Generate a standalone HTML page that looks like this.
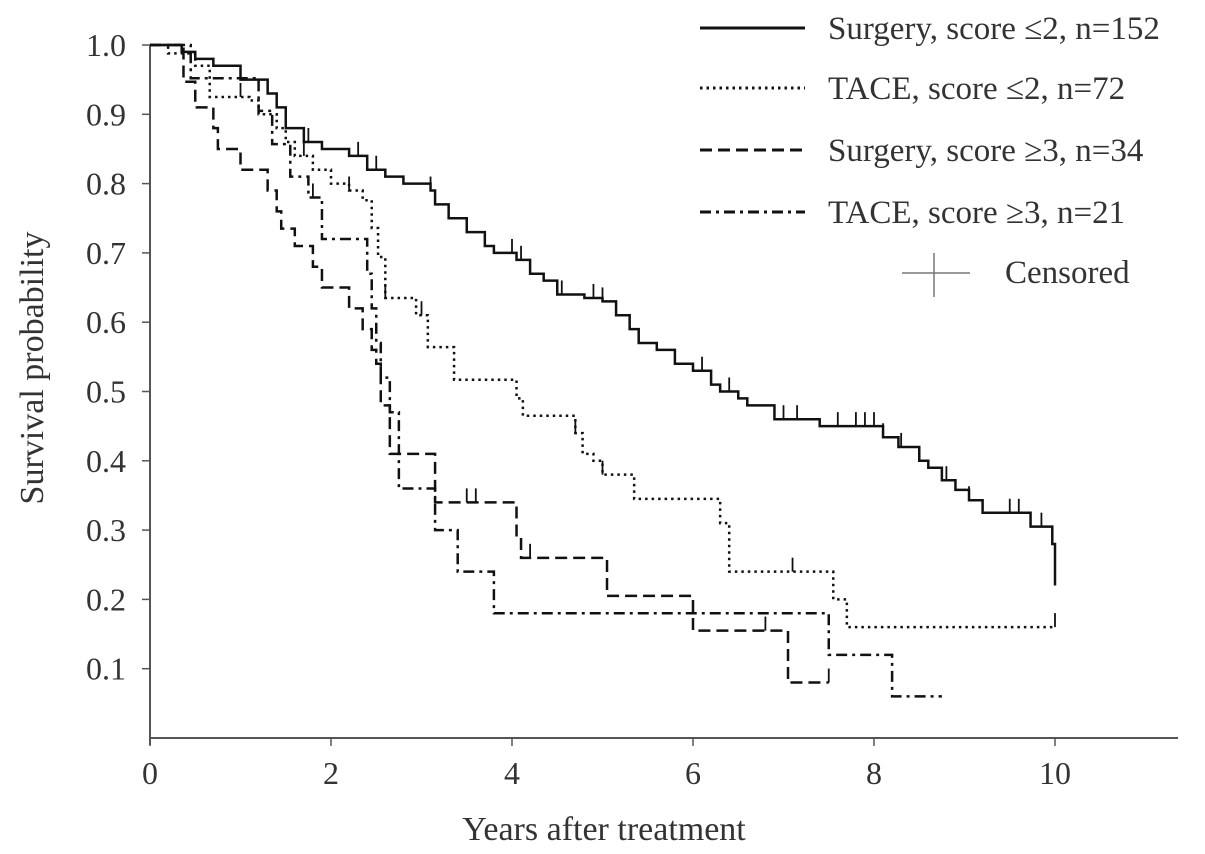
<!DOCTYPE html>
<html><head><meta charset="utf-8"><style>
body{margin:0;background:#fff}
svg{display:block;font-family:"Liberation Serif",serif}
</style></head><body>
<svg id="chart" width="1205" height="854" viewBox="0 0 1205 854"></svg>
<script>
const surgLowT=[0,0.35,0.5,0.7,1.0,1.3,1.4,1.5,1.7,1.9,2.2,2.4,2.6,2.8,3.1,3.15,3.3,3.5,3.7,3.8,4.05,4.2,4.35,4.5,4.8,5.0,5.15,5.3,5.4,5.6,5.8,6.0,6.2,6.3,6.5,6.6,6.9,7.4,8.1,8.27,8.5,8.6,8.75,8.9,9.05,9.2,9.73,9.97,10.0];
const surgLowS=[1.0,0.99,0.98,0.97,0.95,0.93,0.91,0.88,0.86,0.85,0.84,0.82,0.81,0.80,0.79,0.77,0.75,0.73,0.71,0.70,0.69,0.67,0.66,0.64,0.635,0.63,0.61,0.59,0.57,0.56,0.54,0.53,0.51,0.50,0.49,0.48,0.46,0.45,0.434,0.42,0.40,0.39,0.372,0.358,0.343,0.325,0.305,0.28,0.22];
const taceLowT=[0,0.2,0.5,0.66,1.1,1.2,1.4,1.5,1.6,1.8,2.0,2.2,2.35,2.45,2.52,2.6,2.94,3.07,3.36,4.05,4.12,4.7,4.78,4.9,5.0,5.35,6.3,6.4,7.55,7.7,10.0];
const taceLowS=[1.0,0.988,0.97,0.925,0.92,0.90,0.88,0.86,0.84,0.82,0.80,0.79,0.776,0.736,0.694,0.635,0.61,0.564,0.517,0.49,0.465,0.44,0.41,0.40,0.38,0.345,0.31,0.24,0.20,0.16,0.16];
const surgHighT=[0,0.37,0.5,0.7,0.75,1.0,1.3,1.4,1.45,1.6,1.8,1.9,2.2,2.35,2.45,2.5,2.55,2.65,3.15,4.05,4.1,5.05,6.0,7.05,7.5];
const surgHighS=[1.0,0.947,0.91,0.88,0.85,0.82,0.79,0.76,0.735,0.71,0.68,0.65,0.62,0.59,0.56,0.54,0.48,0.41,0.34,0.29,0.26,0.205,0.155,0.08,0.08];
const taceHighT=[0,0.45,1.2,1.35,1.55,1.75,1.9,2.4,2.45,2.5,2.55,2.65,2.75,3.15,3.4,3.8,7.5,8.2,8.75];
const taceHighS=[1.0,0.952,0.905,0.857,0.81,0.78,0.72,0.67,0.62,0.57,0.52,0.47,0.36,0.30,0.24,0.18,0.12,0.06,0.06];
const censSurgLow=[1.0,1.3,1.75,2.3,2.5,3.1,3.7,4.0,4.1,4.55,4.9,5.0,5.4,6.1,6.4,7.0,7.15,7.6,7.8,7.9,8.0,8.1,8.3,8.8,9.05,9.5,9.6,9.85];
const censTaceLow=[1.0,1.7,2.2,2.6,3.0,4.7,5.0,7.1,10.0];
const censSurgHigh=[3.5,3.6,4.2,6.8,7.5];
const censTaceHigh=[1.8];
const xTicks=[0,2,4,6,8,10];
const yTicks=[0.1,0.2,0.3,0.4,0.5,0.6,0.7,0.8,0.9,1.0];

const NS="http://www.w3.org/2000/svg";
const svg=document.getElementById('chart');
const X=t=>150+90.5*t, Y=s=>738-693*s;
function mk(tag,attrs,parent){const e=document.createElementNS(NS,tag);for(const k in attrs)e.setAttribute(k,attrs[k]);(parent||svg).appendChild(e);return e;}
function stepAt(T,S,t){let v=S[0];for(let i=0;i<T.length;i++){if(T[i]<=t)v=S[i];}return v;}

let ax=mk('line',{x1:150,y1:738,x2:1178,y2:738,stroke:'#555','stroke-width':2});

let ay=mk('line',{x1:150,y1:45,x2:150,y2:745,stroke:'#555','stroke-width':2});

xTicks.forEach(v=>{
  const l=mk('line',{x1:X(v),y1:738,x2:X(v),y2:746,stroke:'#555','stroke-width':1.5});
  
  const t=mk('text',{x:X(v),y:784,'text-anchor':'middle','font-size':32,fill:'#333'});t.textContent=v;
  
});
yTicks.forEach(v=>{
  const l=mk('line',{x1:142,y1:Y(v),x2:150,y2:Y(v),stroke:'#555','stroke-width':1.5});
  
  const t=mk('text',{x:126,y:Y(v)+11,'text-anchor':'end','font-size':32,fill:'#333'});t.textContent=v.toFixed(1);
  
});
let xt=mk('text',{x:604,y:840,'text-anchor':'middle','font-size':34,fill:'#333'});xt.textContent='Years after treatment';

let yt=mk('text',{x:43,y:368,'text-anchor':'middle','font-size':34,fill:'#333',transform:'rotate(-90 43 368)'});yt.textContent='Survival probability';


const series=[
 {T:surgLowT,S:surgLowS,C:censSurgLow,dash:'',name:'surgery-low-curve'},
 {T:taceLowT,S:taceLowS,C:censTaceLow,dash:'2.5 4',name:'tace-low-curve'},
 {T:surgHighT,S:surgHighS,C:censSurgHigh,dash:'12 6',name:'surgery-high-curve'},
 {T:taceHighT,S:taceHighS,C:censTaceHigh,dash:'11 5 3 5',name:'tace-high-curve'}
];
series.forEach(se=>{
  let d='M'+X(se.T[0])+','+Y(se.S[0]);
  for(let i=1;i<se.T.length;i++){d+=' H'+X(se.T[i])+' V'+Y(se.S[i]);}
  const p=mk('path',{d:d,fill:'none',stroke:'#111','stroke-width':2.5,'stroke-dasharray':se.dash});
  
  se.C.forEach(c=>{
    const s=stepAt(se.T,se.S,c);
    const l=mk('line',{x1:X(c),y1:Y(s),x2:X(c),y2:Y(s)-14,stroke:'#111','stroke-width':1.8});
    
  });
});

const leg=[['Surgery, score \u22642, n=152','',28],['TACE, score \u22642, n=72','2.5 4',88],['Surgery, score \u22653, n=34','12 6',150],['TACE, score \u22653, n=21','11 5 3 5',212]];
leg.forEach(l=>{
  const ln=mk('line',{x1:700,y1:l[2],x2:805,y2:l[2],stroke:'#111','stroke-width':3,'stroke-dasharray':l[1]});
  
  const t=mk('text',{x:828,y:l[2]+11,'font-size':33,fill:'#333'});t.textContent=l[0];
  
});
let c1=mk('line',{x1:902,y1:273,x2:970,y2:273,stroke:'#777','stroke-width':1.5});

let c2=mk('line',{x1:934,y1:253,x2:934,y2:297,stroke:'#777','stroke-width':1.5});

let ct=mk('text',{x:1005,y:283,'font-size':33,fill:'#333'});ct.textContent='Censored';

</script>
</body></html>
